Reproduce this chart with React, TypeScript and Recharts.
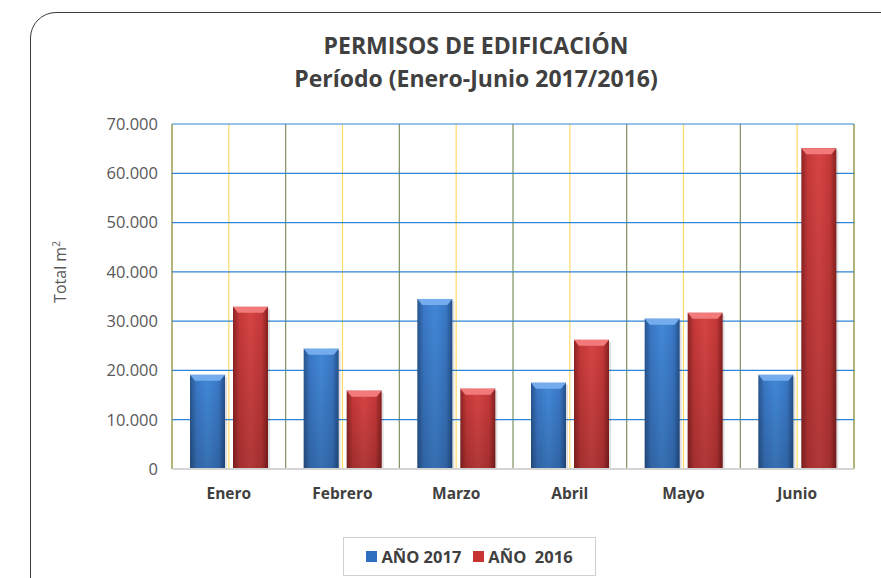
import { BarChart, Bar, XAxis, YAxis, CartesianGrid } from "recharts";

const months = ["Enero", "Febrero", "Marzo", "Abril", "Mayo", "Junio"];
const ano2017 = [19100, 24400, 34500, 17500, 30500, 19100];
const ano2016 = [32900, 15900, 16300, 26200, 31700, 65100];
const yTicks = [0, 10000, 20000, 30000, 40000, 50000, 60000, 70000];

const series = [
  { key: "a2017", name: "AÑO 2017", grad: "gBlue", light: "#74acee", swatch: "#2f6fc0" },
  { key: "a2016", name: "AÑO  2016", grad: "gRed", light: "#f27a7a", swatch: "#c83434" },
];

const data = months.map((m, i) => ({ name: m, a2017: ano2017[i], a2016: ano2016[i] }));

const font = "Open Sans, Liberation Sans, sans-serif";

const fmt = (v: number) => (v === 0 ? "0" : v.toLocaleString("de-DE"));

const makeShape = (grad: string, light: string) => (props: any) => {
  const { x, y, width, height } = props;
  if (!height || height <= 0) return null;
  const b = Math.min(5, width / 4);
  return (
    <g>
      <rect x={x + 2} y={y + 2} width={width} height={height - 2} fill="rgba(0,0,0,0.12)" />
      <rect x={x} y={y} width={width} height={height} fill={`url(#${grad})`} />
      <rect x={x} y={y} width={width} height={height} fill="url(#gShade)" />
      <polygon
        points={`${x},${y} ${x + width},${y} ${x + width - b},${y + 6} ${x + b},${y + 6}`}
        fill={light}
      />
    </g>
  );
};

export default function App() {
  return (
    <div
      style={{
        position: "fixed",
        left: 0,
        top: 0,
        width: 881,
        height: 578,
        overflow: "hidden",
        background: "#fff",
        fontFamily: font,
      }}
    >
      <div
        style={{
          position: "absolute",
          left: 30,
          top: 12,
          width: 920,
          height: 620,
          border: "1px solid #3a3a3a",
          borderRadius: 26,
        }}
      />
      <div
        style={{
          position: "absolute",
          left: 0,
          width: 952,
          top: 29,
          textAlign: "center",
          color: "#404040",
          fontWeight: 700,
          fontSize: 23,
          lineHeight: "33px",
          fontFamily: font,
        }}
      >
        <div>PERMISOS DE EDIFICACIÓN</div>
        <div>Período (Enero-Junio 2017/2016)</div>
      </div>
      <div
        style={{
          position: "absolute",
          left: 60,
          top: 272,
          transform: "translate(-50%, -50%) rotate(-90deg)",
          color: "#595959",
          fontSize: 16,
          whiteSpace: "nowrap",
        }}
      >
        Total m<sup style={{ fontSize: 10 }}>2</sup>
      </div>
      <div style={{ position: "absolute", left: 0, top: 0 }}>
        <BarChart
          width={881}
          height={578}
          data={data}
          margin={{ top: 124, right: 27, bottom: 69, left: 92 }}
          barCategoryGap={18}
          barGap={8}
        >
          <defs>
            <linearGradient id="gBlue" x1="0" y1="0" x2="1" y2="0">
              <stop offset="0%" stopColor="#28558f" />
              <stop offset="18%" stopColor="#3a78c6" />
              <stop offset="50%" stopColor="#4288d8" />
              <stop offset="82%" stopColor="#3a78c6" />
              <stop offset="100%" stopColor="#24508a" />
            </linearGradient>
            <linearGradient id="gRed" x1="0" y1="0" x2="1" y2="0">
              <stop offset="0%" stopColor="#8e2424" />
              <stop offset="18%" stopColor="#c53838" />
              <stop offset="50%" stopColor="#d64444" />
              <stop offset="82%" stopColor="#c53838" />
              <stop offset="100%" stopColor="#862020" />
            </linearGradient>
            <linearGradient id="gShade" x1="0" y1="0" x2="0" y2="1">
              <stop offset="0%" stopColor="#000" stopOpacity={0} />
              <stop offset="100%" stopColor="#000" stopOpacity={0.18} />
            </linearGradient>
          </defs>
          <CartesianGrid horizontal={false} vertical stroke="#ffd966" strokeWidth={1.2} />
          <CartesianGrid
            horizontal={false}
            vertical
            stroke="#7f9060"
            strokeWidth={1.2}
            verticalCoordinatesGenerator={({ offset }: any) =>
              months.map((_, i) => offset.left + (i * offset.width) / months.length).concat(offset.left + offset.width)
            }
          />
          <CartesianGrid vertical={false} stroke="#2f86d6" strokeWidth={1.2} />
          <XAxis
            dataKey="name"
            tickLine={false}
            axisLine={{ stroke: "#d4d4d4", strokeWidth: 2 }}
            tick={{ fill: "#404040", fontSize: 15.5, fontWeight: 700, fontFamily: font }}
            tickMargin={13}
            height={40}
          />
          <YAxis
            domain={[0, 70000]}
            ticks={yTicks}
            tickFormatter={fmt}
            axisLine={false}
            tickLine={false}
            width={80}
            tickMargin={8}
            tick={{ fill: "#595959", fontSize: 16.5, fontFamily: font }}
          />
          {series.map((s) => (
            <Bar
              key={s.key}
              dataKey={s.key}
              name={s.name}
              isAnimationActive={false}
              shape={makeShape(s.grad, s.light)}
            />
          ))}
        </BarChart>
      </div>
      <div
        style={{
          position: "absolute",
          left: 343,
          top: 537,
          width: 253,
          height: 39,
          border: "1px solid #d0d0d0",
          display: "flex",
          alignItems: "center",
          justifyContent: "center",
          gap: 12,
          boxSizing: "border-box",
          color: "#404040",
          fontWeight: 700,
          fontSize: 16.5,
        }}
      >
        {series.map((s) => (
          <div key={s.key} style={{ display: "flex", alignItems: "center", gap: 4, whiteSpace: "pre" }}>
            <span style={{ width: 11, height: 11, background: s.swatch, display: "inline-block" }} />
            {s.name}
          </div>
        ))}
      </div>
    </div>
  );
}
